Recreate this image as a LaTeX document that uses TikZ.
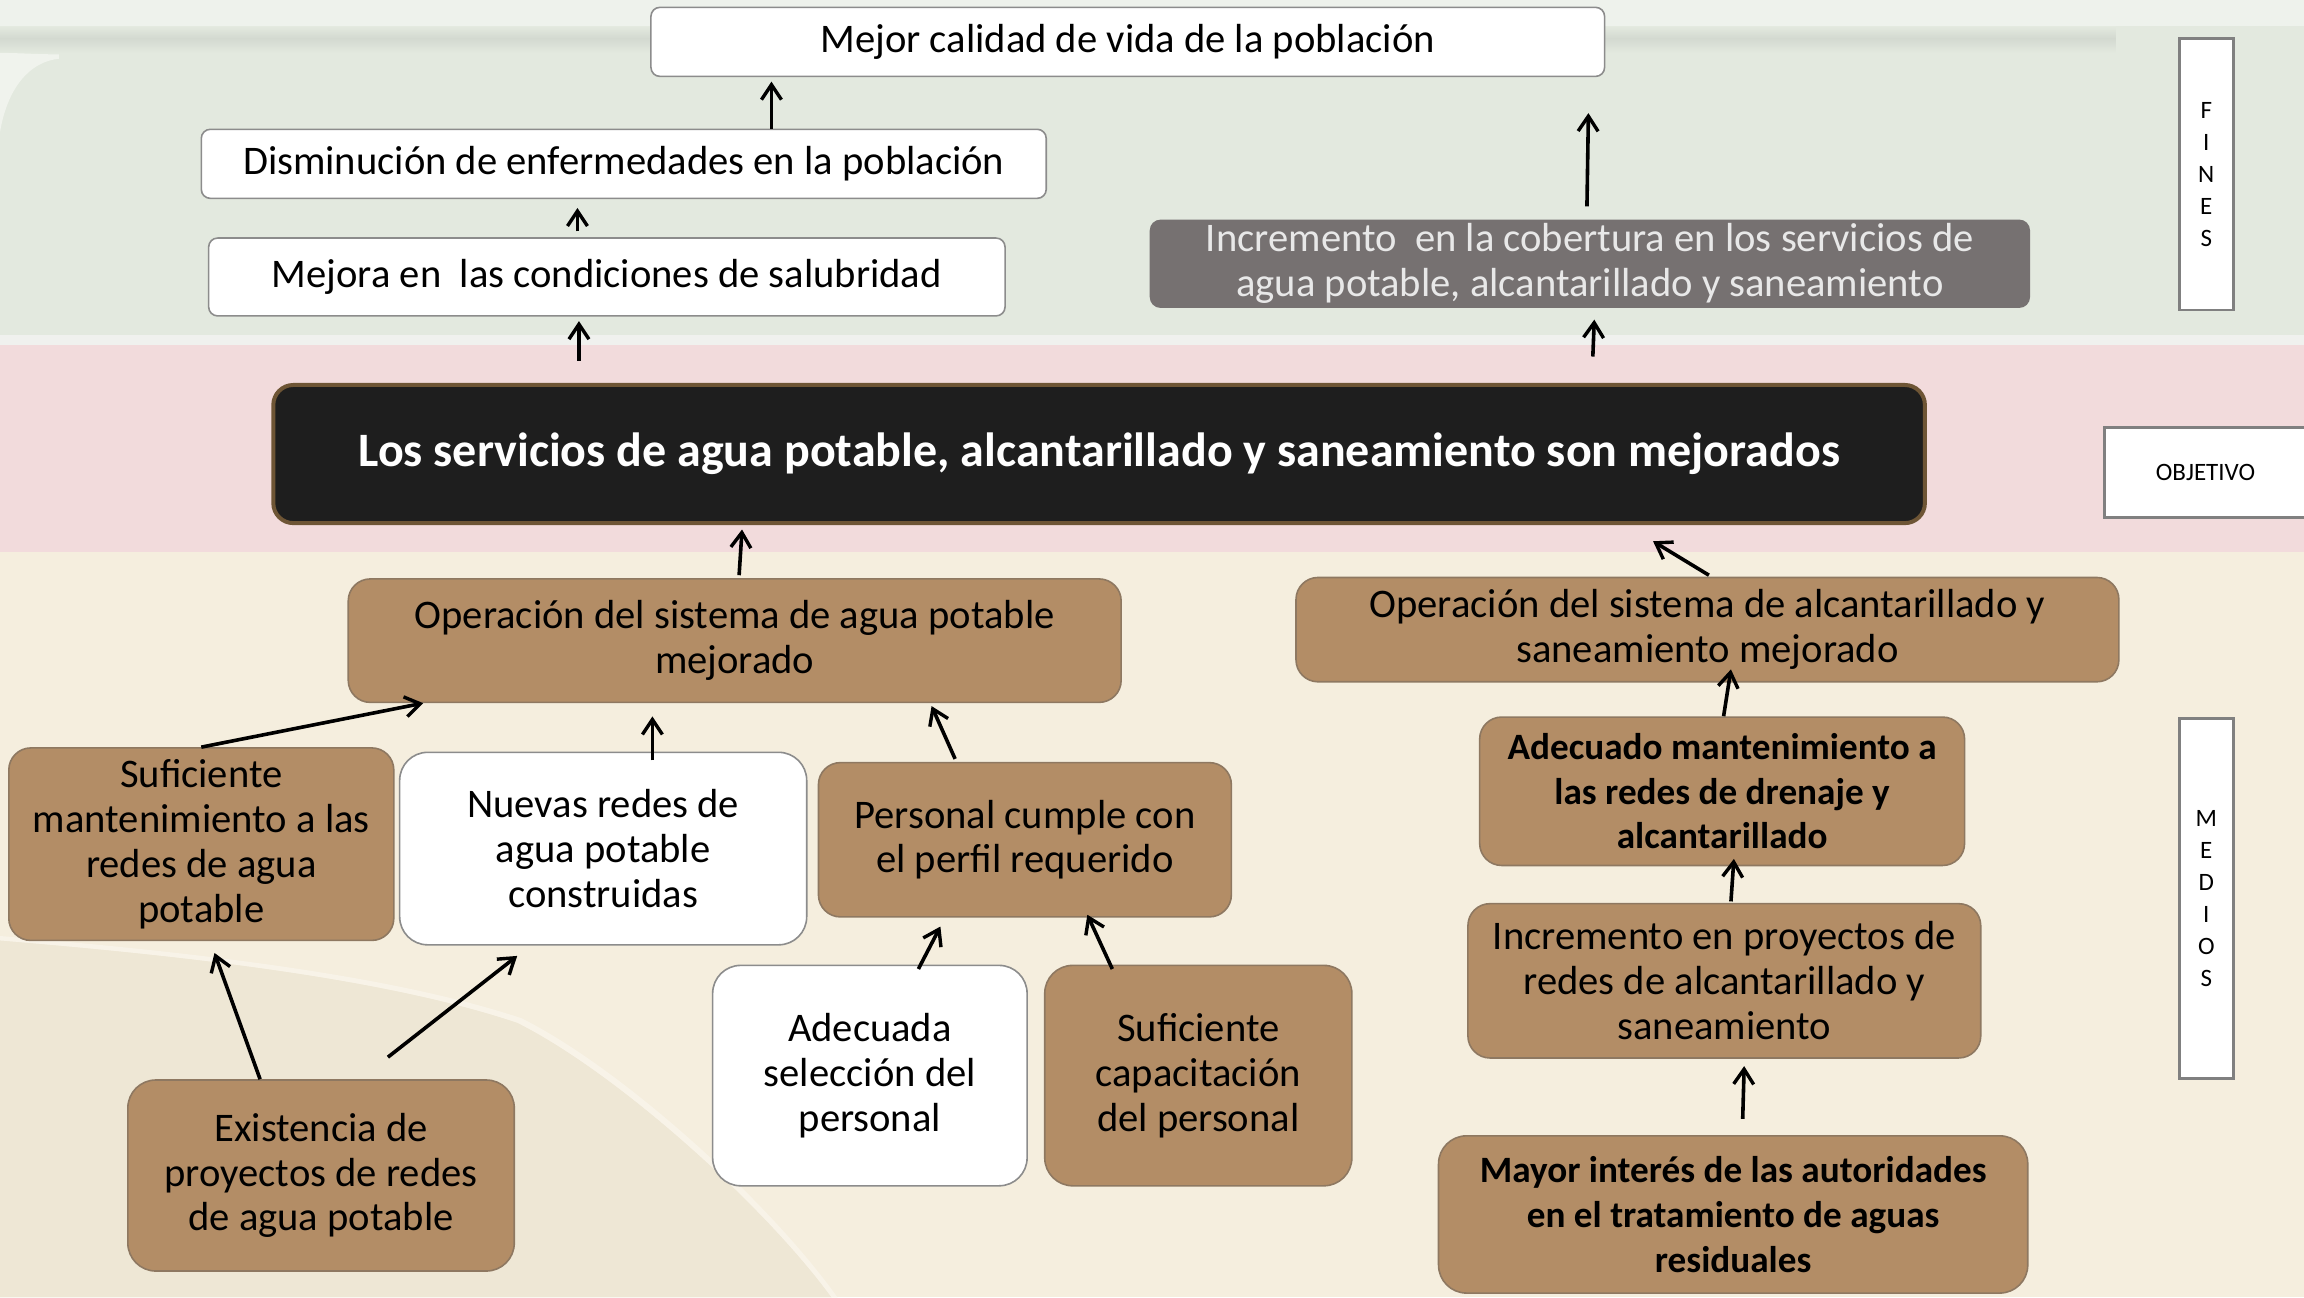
\documentclass[tikz,border=0pt]{standalone}
\usepackage{fontspec}
\setmainfont{Carlito}
\usetikzlibrary{arrows.meta,calc}
\definecolor{topbg}{HTML}{E3E9DF}
\definecolor{topbar}{HTML}{D3D9D0}
\definecolor{sepc}{HTML}{F0F1EE}
\definecolor{pinkbg}{HTML}{F2DBDC}
\definecolor{beigebg}{HTML}{F5EEDE}
\definecolor{swoosh}{HTML}{EEE7D5}
\definecolor{brownc}{HTML}{B38D66}
\definecolor{brownedge}{HTML}{8E7861}
\definecolor{grayc}{HTML}{767171}
\definecolor{graytext}{HTML}{E8E8E8}
\definecolor{objedge}{HTML}{6E5535}
\definecolor{objfill}{HTML}{1E1E1E}
\definecolor{edgec}{HTML}{8C8C8C}
% box by corners: style, name, x1, y1, x2, y2, text
\newcommand\bxnode[7]{%
  \pgfmathsetmacro\bxcx{(#3+#5)/2}%
  \pgfmathsetmacro\bxcy{(#4+#6)/2}%
  \pgfmathsetmacro\bxw{(#5-#3)*0.7347}%
  \pgfmathsetmacro\bxh{(#6-#4)*0.7347}%
  \node[#1, minimum width=\bxw pt, minimum height=\bxh pt] (#2) at (\bxcx,\bxcy) {#7};}
\begin{document}
\begin{tikzpicture}[x=0.7347pt,y=-0.7347pt,
  box/.style={align=center, inner sep=0pt, line width=0.8pt, text=black,
    font=\fontsize{20.3}{22.4}\selectfont},
  wbox/.style={box, fill=white, draw=edgec, rounded corners=4.5pt},
  wrbox/.style={box, fill=white, draw=edgec, rounded corners=14pt},
  bbox/.style={box, fill=brownc, draw=brownedge, rounded corners=11pt},
  bboldbox/.style={bbox, font=\fontsize{18.6}{22.4}\selectfont\bfseries},
  gbox/.style={box, fill=grayc, draw=grayc, rounded corners=5pt, text=graytext},
  objbox/.style={box, fill=objfill, draw=objedge, line width=2pt, rounded corners=10pt,
    text=white, font=\fontsize{24}{28}\selectfont\bfseries},
  sidebox/.style={box, fill=white, draw=gray, line width=1.4pt,
    font=\fontsize{12.5}{16}\selectfont},
  arr/.style={-{Straight Barb[length=7.5pt,width=10pt,line width=1.7pt]}, line width=1.8pt, black},
]
% ---------- background ----------
\useasboundingbox (0,0) rectangle (1568,883);
\fill[topbg] (0,0) rectangle (1568,230);
\fill[topbg!60!white] (0,0) rectangle (1568,18);
\shade[top color=topbg, bottom color=topbar] (0,18) rectangle (1440,26);
\shade[top color=topbar, bottom color=topbg] (0,26) rectangle (1440,36);
\fill[topbg!55!white] (0,36) .. controls (12,36) and (25,37) .. (40,37) -- (40,40) .. controls (20,42) and (5,60) .. (0,90) -- cycle;
\fill[sepc] (0,228) rectangle (1568,235);
\fill[pinkbg] (0,235) rectangle (1568,376);
\fill[beigebg] (0,376) rectangle (1568,883);
\fill[swoosh] (0,640) .. controls (120,650) and (260,665) .. (352,696) .. controls (420,730) and (520,820) .. (566,883) -- (0,883) -- cycle;
\fill[beigebg!70!white] (0,637) .. controls (120,647) and (262,662) .. (355,693) .. controls (423,727) and (523,817) .. (570,883) -- (566,883) .. controls (520,820) and (420,730) .. (352,696) .. controls (260,665) and (120,650) .. (0,640) -- cycle;

% ---------- fines ----------
\bxnode{wbox}{mejor}{443}{5}{1092}{52}{Mejor calidad de vida de la población}
\bxnode{wbox}{dism}{137}{88}{712}{135}{Disminución de enfermedades en la población}
\bxnode{wbox}{mejora}{142}{162}{684}{215}{Mejora en\ \ las condiciones de salubridad}
\bxnode{gbox}{cobert}{783}{150}{1381}{209}{Incremento\ \ en la cobertura en los servicios de\\agua potable, alcantarillado y saneamiento}
\coordinate (cobtip) at (1081,77);

% ---------- objective ----------
\bxnode{objbox}{obj}{186}{262}{1310}{356}{Los servicios de agua potable, alcantarillado y saneamiento son mejorados}

% ---------- side labels ----------
\bxnode{sidebox}{fines}{1483}{26}{1520}{211}{F\\I\\N\\E\\S}
\bxnode{sidebox}{objetivo}{1432}{291}{1574}{352}{OBJETIVO\hspace*{3pt}}
\bxnode{sidebox}{medios}{1483}{489}{1520}{734}{M\\E\\D\\I\\O\\S}

% ---------- medios ----------
\bxnode{bbox}{opagua}{237}{394}{763}{478}{Operación del sistema de agua potable\\mejorado}
\bxnode{bbox}{opalc}{882}{393}{1442}{464}{Operación del sistema de alcantarillado y\\saneamiento mejorado}
\bxnode{bbox}{sufmant}{6}{509}{268}{640}{Suficiente\\mantenimiento a las\\redes de agua\\potable}
\bxnode{wrbox}{nuevas}{272}{512}{549}{643}{Nuevas redes de\\agua potable\\construidas}
\bxnode{bbox}{personal}{557}{519}{838}{624}{Personal cumple con\\el perfil requerido}
\bxnode{bboldbox}{adecmant}{1007}{488}{1337}{589}{Adecuado mantenimiento a\\las redes de drenaje y\\alcantarillado}
\bxnode{bbox}{incproy}{999}{615}{1348}{720}{Incremento en proyectos de\\redes de alcantarillado y\\saneamiento}
\bxnode{wrbox}{adecsel}{485}{657}{699}{807}{Adecuada\\selección del\\personal}
\bxnode{bbox, rounded corners=14pt}{sufcap}{711}{657}{920}{807}{Suficiente\\capacitación\\del personal}
\bxnode{bbox, rounded corners=14pt}{exist}{87}{735}{350}{865}{Existencia de\\proyectos de redes\\de agua potable}
\bxnode{bboldbox, rounded corners=14pt}{mayor}{979}{773}{1380}{880}{Mayor interés de las autoridades\\en el tratamiento de aguas\\residuales}

% ---------- arrows ----------
\draw[arr] (dism.north -| 525,0) -- ($(mejor.south -| 525,0)+(0,3)$);
\draw[arr] ($(mejora.north -| 393,0)+(0,-4)$) -- ($(dism.south -| 393,0)+(0,6)$);
\draw[arr] ($(obj.north -| 394,0)+(0,-15)$) -- ($(mejora.south -| 394,0)+(0,3)$);
\draw[arr] ($(cobert.north -| 1080,0)+(0,-9)$) -- (cobtip);
\draw[arr] ($(obj.north -| 1084,0)+(0,-18)$) -- ($(cobert.south -| 1085,0)+(0,8)$);
\draw[arr] ($(opagua.north -| 503,0)+(0,-2)$) -- ($(obj.south -| 505,0)+(0,3)$);
\draw[arr] ($(opalc.north -| 1163,0)+(0,-1)$) -- ($(obj.south -| 1125,0)+(0,11)$);
\draw[arr] (sufmant.north -| 137,0) -- (opagua.south -| 288,0);
\draw[arr] ($(nuevas.north -| 444,0)+(0,6)$) -- ($(opagua.south -| 444,0)+(0,9)$);
\draw[arr] ($(personal.north -| 650,0)+(0,-2)$) -- ($(opagua.south -| 634,0)+(0,2)$);
\draw[arr] (adecmant.north -| 1173,0) -- ($(opalc.south -| 1178,0)+(0,-9)$);
\draw[arr] ($(incproy.north -| 1178,0)+(0,-1)$) -- ($(adecmant.south -| 1180,0)+(0,-5)$);
\draw[arr] ($(mayor.north -| 1186,0)+(0,-11)$) -- ($(incproy.south -| 1187,0)+(0,5)$);
\draw[arr] (exist.north -| 177,0) -- ($(sufmant.south -| 146,0)+(0,8)$);
\draw[arr] ($(exist.north -| 264,0)+(0,-15)$) -- ($(nuevas.south -| 352,0)+(0,7)$);
\draw[arr] ($(adecsel.north -| 625,0)+(0,3)$) -- ($(personal.south -| 640,0)+(0,6)$);
\draw[arr] ($(sufcap.north -| 757,0)+(0,3)$) -- ($(personal.south -| 740,0)+(0,-2)$);
\end{tikzpicture}
\end{document}
